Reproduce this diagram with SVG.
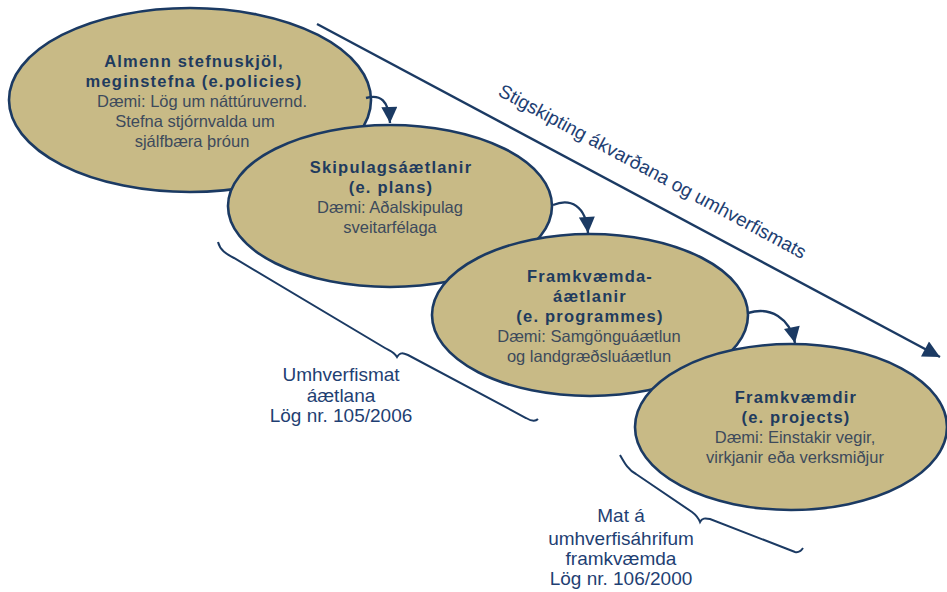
<svg xmlns="http://www.w3.org/2000/svg" width="947" height="592" viewBox="0 0 947 592">
<style>
.node ellipse{fill:#C8BA86;stroke:#1B3A63;stroke-width:2.6}
.b{font-family:"Liberation Sans",Arial,sans-serif;font-weight:bold;font-size:16.5px;fill:#1F3B5E;text-anchor:middle;letter-spacing:1.2px}
.r{font-family:"Liberation Sans",Arial,sans-serif;font-size:16.5px;fill:#3D4A5C;text-anchor:middle}
.o{font-family:"Liberation Sans",Arial,sans-serif;font-size:19px;fill:#1F3F73;text-anchor:middle}
.ln{fill:none;stroke:#1B3A63;stroke-width:2.4}
.br{fill:none;stroke:#1B3A63;stroke-width:2}
</style>
<defs>
<marker id="ah" viewBox="0 0 16 16" refX="16" refY="8" markerWidth="17" markerHeight="16" markerUnits="userSpaceOnUse" orient="auto"><path d="M0,0 L16,8 L0,16 z" fill="#1B3A63"/></marker>
<marker id="big" viewBox="0 0 16 16" refX="16" refY="8" markerWidth="22" markerHeight="17" markerUnits="userSpaceOnUse" orient="auto"><path d="M0,0 L16,8 L0,16 z" fill="#1B3A63"/></marker>
</defs>
<rect width="947" height="592" fill="#FFFFFF"/>
<g id="n1" class="node">
<ellipse cx="190" cy="100" rx="181" ry="92"/>
<text class="b" x="194" y="67">Almenn stefnuskjöl,</text>
<text class="b" x="194" y="87">meginstefna (e.policies)</text>
<text class="r" x="202" y="107">Dæmi: Lög um náttúruvernd.</text>
<text class="r" x="195" y="127">Stefna stjórnvalda um</text>
<text class="r" x="192" y="147">sjálfbæra þróun</text>
</g>
<g id="n2" class="node">
<ellipse cx="390" cy="206" rx="162" ry="81"/>
<text class="b" x="391" y="173">Skipulagsáætlanir</text>
<text class="b" x="391" y="193">(e. plans)</text>
<text class="r" x="390" y="213">Dæmi: Aðalskipulag</text>
<text class="r" x="390" y="233">sveitarfélaga</text>
</g>
<g id="n3" class="node">
<ellipse cx="590" cy="315" rx="158" ry="81"/>
<text class="b" x="590" y="282">Framkvæmda-</text>
<text class="b" x="590" y="302">áætlanir</text>
<text class="b" x="590" y="322">(e. programmes)</text>
<text class="r" x="589" y="342">Dæmi: Samgönguáætlun</text>
<text class="r" x="589" y="362">og landgræðsluáætlun</text>
</g>
<g id="n4" class="node">
<ellipse cx="791" cy="427" rx="156" ry="83"/>
<text class="b" x="796" y="403">Framkvæmdir</text>
<text class="b" x="796" y="423">(e. projects)</text>
<text class="r" x="795" y="443">Dæmi: Einstakir vegir,</text>
<text class="r" x="795" y="463">virkjanir eða verksmiðjur</text>
</g>
<g id="connectors">
<path class="ln" d="M366,98 C380,94 389,100 390,123" marker-end="url(#ah)"/>
<path class="ln" d="M553,205 C570,198 586,205 588,233" marker-end="url(#ah)"/>
<path class="ln" d="M748,313 C770,306 790,318 795,343" marker-end="url(#ah)"/>
<path class="ln" d="M317,24 L940,357" marker-end="url(#big)"/>
</g>
<g id="braces">
<path class="br" d="M218,242 C220,250 226,254 234,258 L385,348 C390,351 394,352 397,357 C400,352 403,353 408,355 L526,418 C531,421 535,422 538,419"/>
<path class="br" d="M620,455 C624,462 628,470 636,474 L692,512 C696,515 698,517 700,522 C702,518 705,518 710,519 L795,552 C799,553 801,551 803,548"/>
</g>
<g id="labels">
<text class="o" x="497" y="95" style="text-anchor:start;font-size:19px" transform="rotate(28.3 497 95)">Stigskipting ákvarðana og umhverfismats</text>
<text class="o" x="341" y="381">Umhverfismat</text>
<text class="o" x="341" y="402">áætlana</text>
<text class="o" x="341" y="422">Lög nr. 105/2006</text>
<text class="o" x="621" y="522">Mat á</text>
<text class="o" x="621" y="545">umhverfisáhrifum</text>
<text class="o" x="621" y="565">framkvæmda</text>
<text class="o" x="621" y="585">Lög nr. 106/2000</text>
</g>
</svg>
